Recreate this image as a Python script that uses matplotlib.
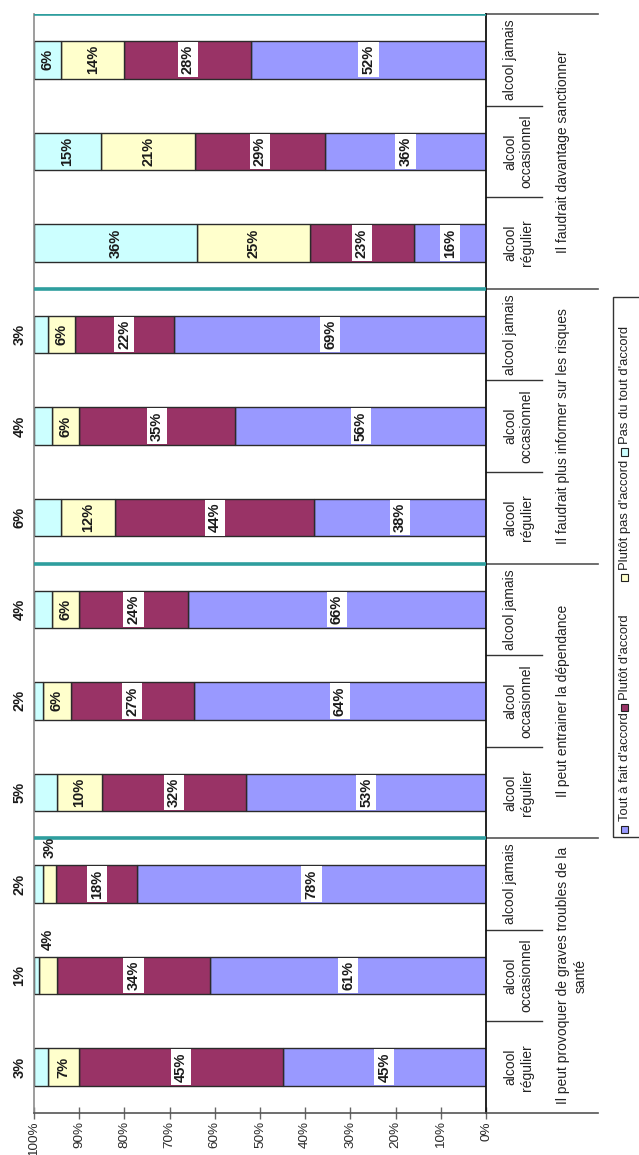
import matplotlib
matplotlib.use("Agg")
import matplotlib.pyplot as plt
import matplotlib.transforms as mtransforms
from matplotlib import font_manager
from matplotlib.patches import Rectangle
import numpy as np

# categories: one bar per consumer type, three bars per statement
groups = ["Il peut provoquer de graves troubles de la\nsanté",
          "Il peut entrainer la dépendance",
          "Il faudrait plus informer sur les risques",
          "Il faudrait davantage sanctionner"]
subcats = ["alcool\nrégulier", "alcool\noccasionnel", "alcool jamais"]

series_names = ["Tout à fait d'accord", "Plutôt d'accord",
                "Plutôt pas d'accord", "Pas du tout d'accord"]
tout = [45, 61, 78, 53, 64, 66, 38, 56, 69, 16, 36, 52]
plutot = [45, 34, 18, 32, 27, 24, 44, 35, 22, 23, 29, 28]
plutot_pas = [7, 4, 3, 10, 6, 6, 12, 6, 6, 25, 21, 14]
pas_du_tout = [3, 1, 2, 5, 2, 4, 6, 4, 3, 36, 15, 6]

colors = ["#9999ff", "#993366", "#ffffcc", "#ccffff"]
teal = "#2e9e9e"

# narrow Arial-like face if available
names = {f.name for f in font_manager.fontManager.ttflist}
if "Liberation Sans Narrow" in names:
    font, k = "Liberation Sans Narrow", 1.2
else:
    font, k = "Liberation Sans", 1.0
plt.rcParams["font.family"] = [font, "DejaVu Sans"]

W, H = 639, 1155
fig = plt.figure(figsize=(W / 100, H / 100), dpi=100)
ax = fig.add_axes([34 / W, 42 / H, 452 / W, 1099 / H])

data = np.array([tout, plutot, plutot_pas, pas_du_tout], dtype=float)
shares = data / data.sum(axis=0) * 100
ypos = np.arange(len(tout))
left = np.zeros(len(tout))

for s in range(4):
    ax.barh(ypos, shares[s], left=left, height=0.41, color=colors[s],
            edgecolor="#2b2b2b", linewidth=1.0, zorder=2)
    for i in ypos:
        x = left[i] + shares[s][i] / 2
        y = i
        g = i // 3
        if s == 3 and g < 3:
            x = 103.2          # small shares written beyond the 100% edge
        if s == 2 and g == 0 and i > 0:
            y = i + 0.4        # tiny yellow segments: label above the bar
        box = dict(facecolor="white", edgecolor="none", pad=2.2) if s < 2 else None
        ax.text(x, y, f"{int(data[s][i])}%", rotation=90, ha="center", va="center",
                fontsize=10.5 * k, fontweight="bold", color="#1a1a1a", bbox=box,
                zorder=4, clip_on=False)
    left += shares[s]

ax.set_xlim(100, 0)
ax.set_ylim(-0.5, 11.5)
ax.set_xticks(np.arange(0, 101, 10))
ax.set_xticklabels([f"{v}%" for v in range(0, 101, 10)], rotation=90)
ax.tick_params(axis="x", direction="inout", length=9, width=1.0, color="#666666",
               labelsize=9.7 * k, labelcolor="#2a2a2a", pad=1.5)
ax.set_yticks([])

ax.spines["top"].set_visible(False)
ax.spines["left"].set_color("#8c8c8c")
ax.spines["left"].set_linewidth(1.2)
ax.spines["bottom"].set_color("#555555")
ax.spines["bottom"].set_linewidth(1.2)
ax.spines["right"].set_color("#111111")
ax.spines["right"].set_linewidth(1.3)

# teal separators between statements
for yb in [2.5, 5.5, 8.5, 11.5]:
    ax.axhline(yb, color=teal, linewidth=2.6, zorder=3)

# two-level category axis drawn beside the plot
tr = mtransforms.blended_transform_factory(ax.transAxes, ax.transData)
for g in range(4):
    for j in range(2):
        yb = g * 3 + j + 0.5
        ax.plot([1.0, 1.124], [yb, yb], color="#333333", lw=1.0,
                transform=tr, clip_on=False)
for yb in [-0.5, 2.5, 5.5, 8.5, 11.5]:
    ax.plot([1.0, 1.248], [yb, yb], color="#555555", lw=1.2,
            transform=tr, clip_on=False)

for i in ypos:
    ax.text(1.0376, i, subcats[i % 3], transform=tr, rotation=90,
            rotation_mode="anchor", ha="center", va="top", multialignment="center",
            fontsize=10 * k, color="#222222", linespacing=1.25)
for g, name in enumerate(groups):
    ax.text(1.155, g * 3 + 1, name, transform=tr, rotation=90,
            rotation_mode="anchor", ha="center", va="top", multialignment="center",
            fontsize=10 * k, color="#222222", linespacing=1.3)

# legend stacked along the right edge
def fx(px):
    return px / W

def fy(py):
    return 1 - py / H

fig.patches.append(Rectangle((fx(613), fy(837)), fx(40), (837 - 297) / H,
                             transform=fig.transFigure, facecolor="none",
                             edgecolor="#333333", linewidth=1.0))
marker_y = [829, 707, 577, 452]
text_y = [821, 700, 570, 444]
for s in range(4):
    fig.patches.append(Rectangle((fx(621), fy(marker_y[s] + 3.5)), fx(7), 7 / H,
                                 transform=fig.transFigure, facecolor=colors[s],
                                 edgecolor="#222222", linewidth=0.8))
    fig.text(fx(625), fy(text_y[s]), series_names[s], rotation=90,
             rotation_mode="anchor", ha="left", va="center",
             fontsize=9.4 * k, color="#222222")

fig.savefig("out.png", dpi=100, facecolor="white")
